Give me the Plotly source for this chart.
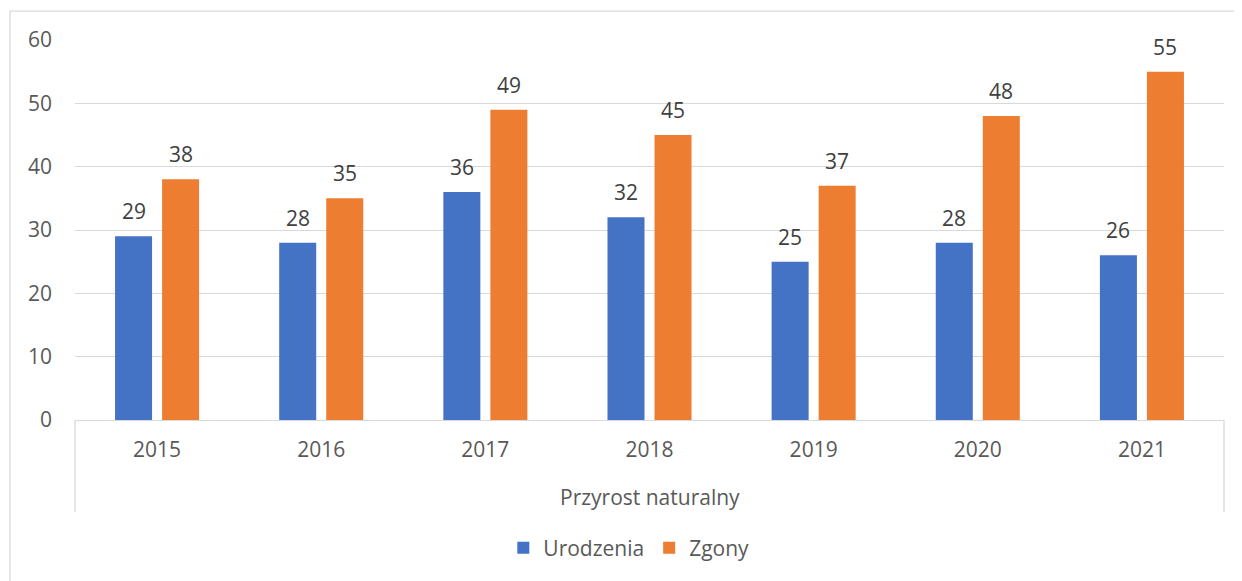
import plotly.graph_objects as go

years = ["2015", "2016", "2017", "2018", "2019", "2020", "2021"]
urodzenia = [29, 28, 36, 32, 25, 28, 26]
zgony = [38, 35, 49, 45, 37, 48, 55]
series_names = ["Urodzenia", "Zgony"]
colors = ["#4472C4", "#ED7D31"]
y_ticks = [0, 10, 20, 30, 40, 50, 60]
group_title = "Przyrost naturalny"

FONT = "Open Sans"
TXT = "#595959"
GRID = "#D9D9D9"
FS = 21

fig = go.Figure()
for name, vals, col in zip(series_names, [urodzenia, zgony], colors):
    fig.add_trace(go.Bar(
        x=years, y=vals, name=name, marker=dict(color=col, line=dict(width=0)),
    ))

# data labels (x = category index on the category axis)
for vals, shift in zip([urodzenia, zgony], [-23.5, 23.5]):
    for i, v in enumerate(vals):
        fig.add_annotation(x=i, y=v, text=str(v), showarrow=False,
                           xref="x", yref="y", xshift=shift, yshift=9,
                           yanchor="bottom", font=dict(family=FONT, size=FS, color="#404040"))

fig.add_annotation(x=0.5, y=-0.203, xref="paper", yref="paper", text=group_title,
                   showarrow=False, yanchor="middle",
                   font=dict(family=FONT, size=FS, color=TXT))

shapes = [
    dict(type="line", xref="paper", yref="paper", x0=0, x1=0, y0=0, y1=-0.242,
         line=dict(color=GRID, width=1.3)),
    dict(type="line", xref="paper", yref="paper", x0=1, x1=1, y0=0, y1=-0.242,
         line=dict(color=GRID, width=1.3)),
    dict(type="rect", xref="paper", yref="paper", x0=-0.0566, x1=1.03, y0=-0.6, y1=1.076,
         line=dict(color=GRID, width=1.3), layer="below"),
]

fig.update_layout(
    width=1234, height=573,
    margin=dict(l=67, r=18, t=32, b=161, autoexpand=False),
    paper_bgcolor="white", plot_bgcolor="white",
    barmode="group", bargap=0.427, bargroupgap=0.213,
    font=dict(family=FONT, size=FS, color=TXT),
    showlegend=True,
    legend=dict(orientation="h", x=0.482, xanchor="center", y=-0.337, yanchor="middle",
                font=dict(family=FONT, size=FS, color=TXT), itemwidth=30,
                traceorder="normal"),
    shapes=shapes,
    xaxis=dict(type="category", range=[-0.5, len(years) - 0.5], automargin=False,
               showline=True, linecolor=GRID, linewidth=1.3,
               showgrid=False, ticks="", ticklabelstandoff=11,
               tickfont=dict(family=FONT, size=FS, color=TXT)),
    yaxis=dict(range=[0, 60], tickvals=y_ticks, showgrid=True, gridcolor=GRID, gridwidth=1.3,
               automargin=False, zeroline=False, showline=False, ticks="", ticklabelstandoff=22,
               tickfont=dict(family=FONT, size=FS, color=TXT)),
)

fig.write_html("out.html")
